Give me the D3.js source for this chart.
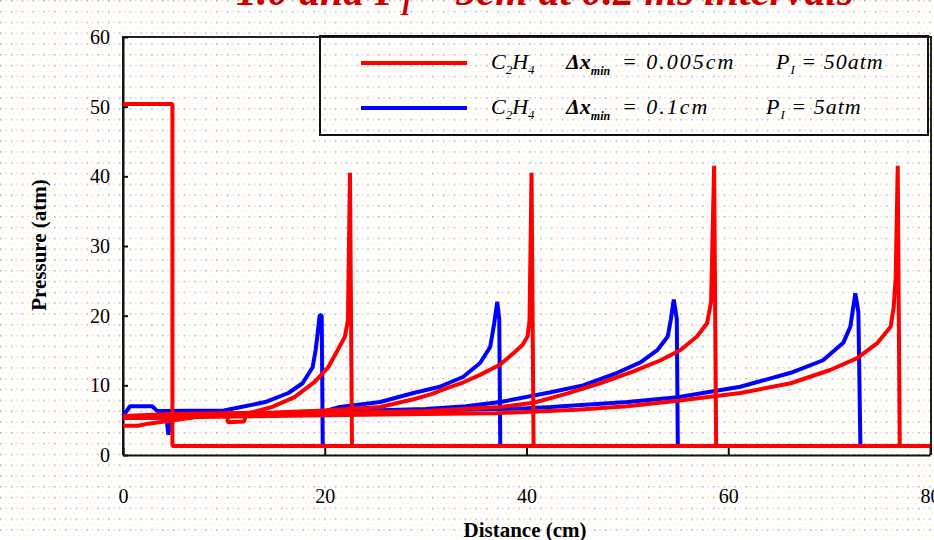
<!DOCTYPE html>
<html>
<head>
<meta charset="utf-8">
<script src="https://cdn.jsdelivr.net/npm/d3@7"></script>
<style>
  body { margin: 0; background: #fff; overflow: hidden; }
  text { font-family: "Liberation Serif", "DejaVu Serif", serif; }
</style>
</head>
<body>
<svg id="chart" width="934" height="540"></svg>
<script>
// pressure profiles, [distance cm, pressure atm]
const red0 = [[0, 50.4], [4.9, 50.4], [4.9, 1.3], [80, 1.3]];
const red1 = [[0, 4.2], [1.5, 4.2], [2.5, 4.5], [5, 5.0], [8, 5.6], [10.3, 5.9], [10.4, 4.7], [12, 4.8], [12.2, 5.9],
    [14.8, 6.9], [17, 8.3], [19, 10.5], [20.3, 12.5], [21.3, 15.1], [22, 17], [22.3, 19.4], [22.5, 40.5], [22.7, 1.3], [80, 1.3]];
const red2 = [[0, 5.6], [5, 5.9], [10, 6.0], [15, 6.1], [20, 6.4], [25.5, 6.9], [28.8, 8.0], [30.5, 8.7], [32.1, 9.6],
    [33.7, 10.4], [35.4, 11.5], [37.4, 13.0], [38.7, 14.6], [39.6, 15.8], [40.1, 17.0], [40.3, 19.3], [40.5, 40.5], [40.7, 1.3], [80, 1.3]];
const red3 = [[0, 5.5], [10, 5.8], [20, 6.0], [30, 6.3], [37.4, 6.9], [40.7, 7.5], [44, 8.8], [47.3, 10.3], [50.6, 12.0],
    [53.3, 13.6], [55.3, 15.1], [56.9, 17.0], [57.9, 18.9], [58.3, 22.0], [58.6, 41.5], [58.8, 1.3], [80, 1.3]];
const red4 = [[0, 5.3], [20, 5.7], [30, 5.9], [37, 6.0], [45, 6.5], [50, 7.0], [55, 7.8], [61.2, 8.9], [66.2, 10.3],
    [70.1, 12.2], [72.8, 13.9], [74.8, 16.1], [76.1, 18.4], [76.4, 21.2], [76.6, 25.5], [76.8, 41.5], [77.0, 1.3], [80, 1.3]];

const blue1 = [[0, 5.6], [0.7, 7.0], [2.9, 7.0], [3.4, 6.3], [10, 6.4], [11.1, 6.7], [14.1, 7.6], [16.4, 8.9], [17.8, 10.3],
    [18.8, 12.6], [19.1, 15.1], [19.3, 17.5], [19.5, 20.1], [19.7, 20.0], [19.8, 1.3], [80, 1.3]];
const blue2 = [[0, 5.3], [4.3, 5.4], [4.5, 2.9], [4.7, 5.3], [6, 5.4], [10, 5.7], [15, 6.0], [20, 6.3], [21.5, 6.9], [25.5, 7.6],
    [28.8, 8.9], [31.4, 9.8], [33.7, 11.2], [35.4, 13.2], [36.4, 15.5], [36.8, 18.9], [37.1, 22.0], [37.3, 19.5], [37.4, 1.3], [80, 1.3]];
const blue3 = [[0, 5.5], [10, 5.8], [20, 6.2], [30, 6.6], [34, 7.0], [37.4, 7.6], [42.4, 9.0], [45.6, 10.0], [49, 11.8],
    [51.3, 13.3], [53, 15.1], [54, 17.0], [54.3, 19.4], [54.6, 22.3], [54.9, 19.5], [55.0, 1.3], [80, 1.3]];
const blue4 = [[0, 5.5], [20, 6.0], [30, 6.4], [40, 6.7], [42.4, 6.9], [50, 7.6], [55, 8.3], [56.3, 8.6], [61.2, 9.8], [66.2, 11.8],
    [69.4, 13.6], [71.4, 16.1], [72.1, 18.4], [72.6, 23.2], [72.9, 20.5], [73.1, 1.3], [80, 1.3]];

const xTicks = [0, 20, 40, 60, 80];
const yTicks = [0, 10, 20, 30, 40, 50, 60];

const svg = d3.select("#chart");

// dotted paper background
const defs = svg.append("defs");
const pat = defs.append("pattern")
    .attr("id", "dots")
    .attr("patternUnits", "userSpaceOnUse")
    .attr("width", 10.8)
    .attr("height", 10.8);
pat.append("rect").attr("x", 0).attr("y", 0).attr("width", 1.6).attr("height", 1.6).attr("fill", "#b4b4b4");
pat.append("rect").attr("x", 5.4).attr("y", 0).attr("width", 1.4).attr("height", 1.4).attr("fill", "#ffc4c4");
pat.append("rect").attr("x", 2.7).attr("y", 5.4).attr("width", 1.4).attr("height", 1.4).attr("fill", "#fff2a8");
pat.append("rect").attr("x", 8.1).attr("y", 5.4).attr("width", 1.4).attr("height", 1.4).attr("fill", "#fff2a8");
svg.append("rect").attr("width", 934).attr("height", 540).attr("fill", "url(#dots)");

const x = d3.scaleLinear().domain([0, 80]).range([123, 930]);
const y = d3.scaleLinear().domain([0, 60]).range([455, 37]);

// title, cut off at the top of the picture
svg.append("text")
    .attr("x", 236)
    .attr("y", 5)
    .attr("font-size", 42)
    .attr("font-weight", "bold")
    .attr("font-style", "italic")
    .attr("fill", "#cc0000")
    .call(t => {
        t.append("tspan").text("1.0 and P");
        t.append("tspan").attr("font-size", 26).attr("dy", 10).text("I");
        t.append("tspan").attr("dy", -10).text(" = 5cm at 0.2 ms intervals");
    });

// frame
svg.append("path")
    .attr("d", `M${x(0)},${y(0)}V${y(60)}H${x(80) + 1}V${y(0)}`)
    .attr("fill", "none")
    .attr("stroke", "#222")
    .attr("stroke-width", 2);

// axes, ticks point inward
const yAxis = svg.append("g")
    .attr("transform", `translate(${x(0)},0)`)
    .call(d3.axisLeft(y).tickValues(yTicks).tickSizeInner(-5).tickSizeOuter(0).tickPadding(13));
const xAxis = svg.append("g")
    .attr("transform", `translate(0,${y(0)})`)
    .call(d3.axisBottom(x).tickValues(xTicks).tickSizeInner(-7).tickSizeOuter(0).tickPadding(34));
[xAxis, yAxis].forEach(a => {
    a.select(".domain").attr("stroke", "#111").attr("stroke-width", 2);
    a.selectAll(".tick line").attr("stroke", "#111").attr("stroke-width", 2);
    a.selectAll(".tick text")
        .attr("font-family", "Liberation Serif, serif")
        .attr("font-size", 20)
        .attr("fill", "#000");
});

svg.append("text")
    .attr("x", 525)
    .attr("y", 537)
    .attr("text-anchor", "middle")
    .attr("font-size", 21)
    .attr("font-weight", "bold")
    .text("Distance (cm)");

svg.append("text")
    .attr("transform", "translate(46,245) rotate(-90)")
    .attr("text-anchor", "middle")
    .attr("font-size", 21)
    .attr("font-weight", "bold")
    .text("Pressure (atm)");

// curves
const line = d3.line().x(d => x(d[0])).y(d => y(d[1]));
const blues = [blue1, blue2, blue3, blue4];
const reds = [red0, red1, red2, red3, red4];

svg.append("g")
    .selectAll("path")
    .data(blues)
    .enter()
    .append("path")
    .attr("d", line)
    .attr("fill", "none")
    .attr("stroke", "#0000ff")
    .attr("stroke-width", 4)
    .attr("stroke-linejoin", "bevel");

svg.append("g")
    .selectAll("path")
    .data(reds)
    .enter()
    .append("path")
    .attr("d", line)
    .attr("fill", "none")
    .attr("stroke", "#ff0000")
    .attr("stroke-width", 4)
    .attr("stroke-linejoin", "bevel");

// legend
const lg = svg.append("g");
lg.append("rect")
    .attr("x", 320).attr("y", 36)
    .attr("width", 608).attr("height", 99)
    .attr("fill", "none")
    .attr("stroke", "#111")
    .attr("stroke-width", 2);

const legendRows = [
    { color: "#ff0000", y: 63, dx: "0.005cm", p: "50atm", px: 776 },
    { color: "#0000ff", y: 108, dx: "0.1cm", p: "5atm", px: 766 },
];
legendRows.forEach(r => {
    lg.append("line")
        .attr("x1", 361).attr("x2", 467)
        .attr("y1", r.y).attr("y2", r.y)
        .attr("stroke", r.color)
        .attr("stroke-width", 4);
    const t = lg.append("text")
        .attr("y", r.y + 6)
        .attr("font-size", 22)
        .attr("font-style", "italic")
        .attr("fill", "#000");
    t.append("tspan").attr("x", 491).text("C");
    t.append("tspan").attr("font-size", 13).attr("dy", 5).text("2");
    t.append("tspan").attr("dy", -5).text("H");
    t.append("tspan").attr("font-size", 13).attr("dy", 5).text("4");
    t.append("tspan").attr("x", 566).attr("dy", -5).attr("font-weight", "bold").text("Δx");
    t.append("tspan").attr("font-size", 12).attr("font-weight", "bold").attr("dy", 6).text("min");
    t.append("tspan").attr("x", 622).attr("dy", -6).attr("letter-spacing", 2).text("= " + r.dx);
    t.append("tspan").attr("x", r.px).attr("letter-spacing", 1).text("P");
    t.append("tspan").attr("font-size", 13).attr("dy", 5).text("I");
    t.append("tspan").attr("dy", -5).attr("letter-spacing", 1).text(" = " + r.p);
});
</script>
</body>
</html>
